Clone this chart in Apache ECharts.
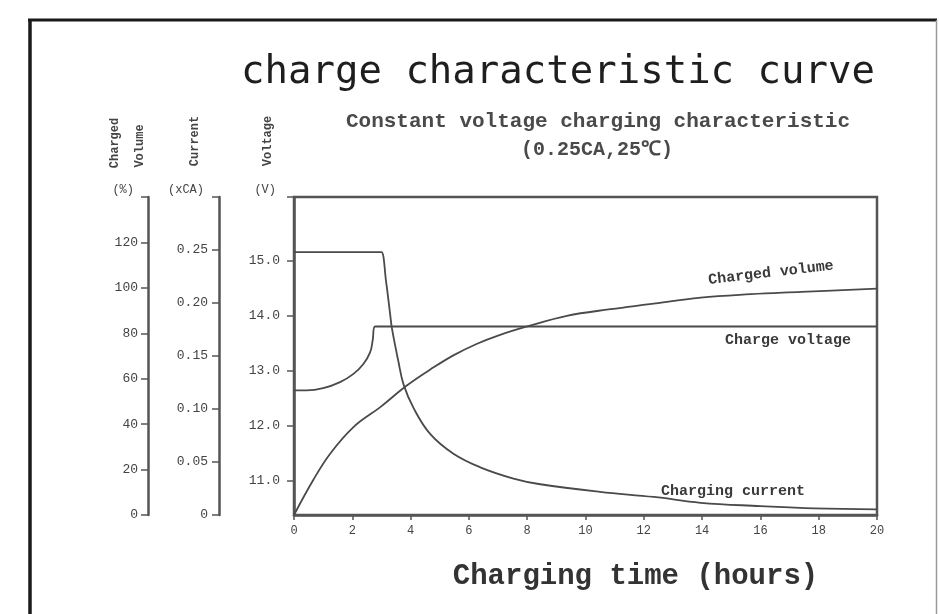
<!DOCTYPE html>
<html>
<head>
<meta charset="utf-8">
<script src="https://cdn.jsdelivr.net/npm/echarts@6/dist/echarts.min.js"></script>
<style>
html,body{margin:0;padding:0;background:#fff;}
#chart{width:939px;height:614px;}
</style>
</head>
<body>
<div id="chart"></div>
<script>
// ---- data ----
const titleText = 'charge characteristic curve';
const subtitleLine1 = 'Constant voltage charging characteristic';
const subtitleLine2 = '(0.25CA,25℃)';
const xAxisName = 'Charging time (hours)';

const hourTicks = [0, 2, 4, 6, 8, 10, 12, 14, 16, 18, 20];

// Voltage axis (V)
const voltMin = 10.38, voltMax = 16.15;
const voltTicks = [11, 12, 13, 14, 15, 16.15];
// Current axis (xCA)
const currMin = 0, currMax = 0.30, currStep = 0.05;
// Charged volume axis (%)
const volMin = 0, volMax = 140, volStep = 20;

// Charge voltage curve
const voltHours = [0, 0.43, 1.0, 1.58, 2.04, 2.38, 2.61, 2.7, 2.78, 20];
const voltValues = [12.64, 12.64, 12.68, 12.79, 12.94, 13.12, 13.33, 13.55, 13.8, 13.8];

// Charging current curve
const currHours = [0, 2.9, 3.0, 3.16, 3.3, 3.36, 3.58, 3.76, 4.1, 4.67, 5.47, 6.39, 7.53, 8.45, 10.5, 12.35, 13.95, 16.0, 17.85, 20];
const currValues = [0.248, 0.248, 0.248, 0.22, 0.189, 0.176, 0.145, 0.123, 0.101, 0.0765, 0.0578, 0.045, 0.0344, 0.029, 0.0218, 0.017, 0.0115, 0.0084, 0.0062, 0.0053];

// Charged volume curve
const volHours = [0, 0.66, 1.24, 2.04, 2.96, 3.87, 4.79, 5.5, 6.3, 7.0, 8.0, 9.36, 10.86, 12.2, 13.95, 15.67, 17.4, 20];
const volValues = [0, 15.4, 27, 38.7, 47.5, 57, 65, 70.5, 75.5, 79, 83, 87.7, 90.6, 92.8, 95.7, 97.2, 98.2, 99.7];

const curveLabels = ['Charged volume', 'Charge voltage', 'Charging current'];
const axisTitles = ['Charged', 'Volume', 'Current', 'Voltage'];
const unitLabels = ['(%)', '(xCA)', '(V)'];

// ---- styles ----
const LINE = '#555';
const TXT = '#444';
const MONO = '"Liberation Mono", "DejaVu Sans Mono", monospace';

const pairs = (xs, ys) => xs.map((x, i) => [x, ys[i]]);

const axisCommon = (offset, margin) => ({
  type: 'value',
  position: 'left',
  offset: offset,
  axisLine: {show: true, onZero: false, lineStyle: {color: LINE, width: 2.5}},
  axisTick: {show: true, inside: false, length: 7, lineStyle: {color: LINE, width: 1.5}},
  splitLine: {show: false},
  axisLabel: {
    fontFamily: MONO, fontSize: 13, color: TXT, margin: margin,
    rich: {u: {fontFamily: MONO, fontSize: 12, color: TXT, padding: [0, 4, 14, 0]}}
  }
});

const yVolt = axisCommon(0, 14);
yVolt.min = voltMin; yVolt.max = voltMax;
yVolt.axisTick.customValues = voltTicks;
yVolt.axisLabel.customValues = voltTicks;
yVolt.axisLabel.formatter = v => Math.abs(v - voltMax) < 1e-6 ? '{u|' + unitLabels[2] + '}' : v.toFixed(1);

const yCurr = axisCommon(75, 11);
yCurr.min = currMin; yCurr.max = currMax; yCurr.interval = currStep;
yCurr.axisLabel.formatter = v => Math.abs(v - currMax) < 1e-6 ? '{u|' + unitLabels[1] + '}' : (v === 0 ? '0' : v.toFixed(2));

const yVol = axisCommon(146, 10);
yVol.min = volMin; yVol.max = volMax; yVol.interval = volStep;
yVol.axisLabel.formatter = v => v === volMax ? '{u|' + unitLabels[0] + '}' : String(v);

const lineSeries = (name, yIdx, data) => ({
  name: name, type: 'line', xAxisIndex: 0, yAxisIndex: yIdx,
  data: data, showSymbol: false, symbol: 'none',
  smooth: 0.4,
  lineStyle: {color: '#4a4a4a', width: 1.8},
  z: 3
});

const chart = echarts.init(document.getElementById('chart'), null, {renderer: 'canvas'});

const option = {
  animation: false,
  backgroundColor: '#ffffff',
  grid: {
    left: 294, top: 197, width: 583, height: 318,
    show: true, borderColor: LINE, borderWidth: 2.5, backgroundColor: 'transparent',
    containLabel: false, outerBoundsMode: 'none'
  },
  xAxis: {
    type: 'value', min: 0, max: 20, interval: 2,
    name: xAxisName, nameLocation: 'middle', nameGap: 47,
    nameTextStyle: {fontFamily: MONO, fontWeight: 'bold', fontSize: 29, color: '#333', padding: [0, 0, 0, 100]},
    axisLine: {onZero: false, lineStyle: {color: LINE, width: 2.5}},
    axisTick: {length: 5, lineStyle: {color: LINE, width: 1.5}},
    axisLabel: {fontFamily: MONO, fontSize: 12, color: TXT, margin: 10, formatter: v => String(v)},
    splitLine: {show: false}
  },
  yAxis: [yVolt, yCurr, yVol],
  series: [
    lineSeries(curveLabels[1], 0, pairs(voltHours, voltValues)),
    lineSeries(curveLabels[2], 1, pairs(currHours, currValues)),
    lineSeries(curveLabels[0], 2, pairs(volHours, volValues))
  ],
  graphic: [
    // outer frame
    {type: 'line', shape: {x1: 30, y1: 20, x2: 30, y2: 640}, style: {stroke: '#1a1a1a', lineWidth: 3.5}},
    {type: 'line', shape: {x1: 28, y1: 20, x2: 937, y2: 20}, style: {stroke: '#1a1a1a', lineWidth: 3}},
    {type: 'line', shape: {x1: 936.5, y1: 20, x2: 936.5, y2: 640}, style: {stroke: '#9a9a9a', lineWidth: 1.5}},
    // titles
    {type: 'text', x: 558, y: 73, style: {text: titleText, font: '39px "DejaVu Sans Mono", monospace', fill: '#1e1e1e', textAlign: 'center', textVerticalAlign: 'middle'}},
    {type: 'text', x: 598, y: 122, style: {text: subtitleLine1, font: 'bold 21px ' + MONO, fill: '#4a4a4a', textAlign: 'center', textVerticalAlign: 'middle'}},
    {type: 'text', x: 597, y: 150, style: {text: subtitleLine2, font: 'bold 20px ' + MONO, fill: '#4a4a4a', textAlign: 'center', textVerticalAlign: 'middle'}},
    // vertical axis titles
    {type: 'text', x: 115, y: 143, rotation: Math.PI / 2, style: {text: axisTitles[0], font: 'bold 12px ' + MONO, fill: TXT, textAlign: 'center', textVerticalAlign: 'middle'}},
    {type: 'text', x: 140, y: 146, rotation: Math.PI / 2, style: {text: axisTitles[1], font: 'bold 12px ' + MONO, fill: TXT, textAlign: 'center', textVerticalAlign: 'middle'}},
    {type: 'text', x: 195, y: 141, rotation: Math.PI / 2, style: {text: axisTitles[2], font: 'bold 12px ' + MONO, fill: TXT, textAlign: 'center', textVerticalAlign: 'middle'}},
    {type: 'text', x: 268, y: 141, rotation: Math.PI / 2, style: {text: axisTitles[3], font: 'bold 12px ' + MONO, fill: TXT, textAlign: 'center', textVerticalAlign: 'middle'}},
    // curve labels
    {type: 'text', x: 771, y: 273, rotation: 0.115, style: {text: curveLabels[0], font: 'bold 15px ' + MONO, fill: '#3a3a3a', textAlign: 'center', textVerticalAlign: 'middle'}},
    {type: 'text', x: 788, y: 340, style: {text: curveLabels[1], font: 'bold 15px ' + MONO, fill: '#3a3a3a', textAlign: 'center', textVerticalAlign: 'middle'}},
    {type: 'text', x: 733, y: 491, style: {text: curveLabels[2], font: 'bold 15px ' + MONO, fill: '#3a3a3a', textAlign: 'center', textVerticalAlign: 'middle'}}
  ]
};
chart.setOption(option);
</script>
</body>
</html>
